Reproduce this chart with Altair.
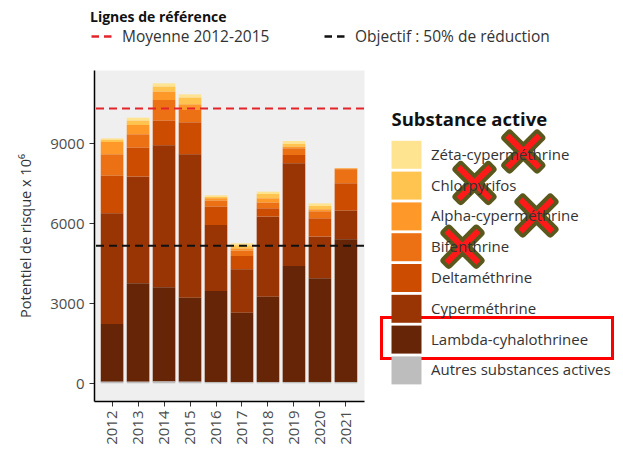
import altair as alt
import pandas as pd

# ---- data ----
annees = ["2012", "2013", "2014", "2015", "2016", "2017", "2018", "2019", "2020", "2021"]
substances = [
    "Zéta-cyperméthrine", "Chlorpyrifos", "Alpha-cyperméthrine", "Bifenthrine",
    "Deltaméthrine", "Cyperméthrine", "Lambda-cyhalothrinee", "Autres substances actives",
]
couleurs = ["#FEE391", "#FEC44F", "#FE9929", "#EC7014", "#CC4C02", "#993404", "#662506", "#BDBDBD"]

zeta = [57, 112, 125, 125, 60, 75, 87, 112, 100, 13]
chlorpyrifos = [80, 163, 188, 250, 50, 115, 163, 100, 125, 0]
alpha = [463, 350, 312, 212, 90, 85, 162, 63, 75, 32]
bifenthrine = [800, 500, 775, 463, 225, 200, 213, 250, 263, 530]
deltamethrine = [1412, 1087, 925, 1200, 688, 500, 312, 312, 687, 1025]
cypermethrine = [4150, 4000, 5325, 5375, 2475, 1625, 3000, 3850, 1563, 1075]
lambda_cyhalo = [2165, 3690, 3530, 3152, 3412, 2610, 3200, 4350, 3887, 5350]
autres = [60, 60, 70, 60, 50, 40, 50, 50, 50, 50]

series = [zeta, chlorpyrifos, alpha, bifenthrine, deltamethrine, cypermethrine, lambda_cyhalo, autres]
lignes = ["Moyenne 2012-2015", "Objectif : 50% de réduction"]
couleurs_lignes = ["#E3242B", "#111111"]

rows = []
for i, (sub, vals) in enumerate(zip(substances, series)):
    for an, v in zip(annees, vals):
        rows.append({"annee": an, "substance": sub, "valeur": v, "rang": len(substances) - i})
df = pd.DataFrame(rows)

totaux = df.groupby("annee")["valeur"].sum()
moyenne = float(totaux.loc[["2012", "2013", "2014", "2015"]].mean())
ref = pd.DataFrame({"ligne": lignes, "valeur": [moyenne, moyenne / 2]})

FONT = "Open Sans"
rect_path = "M-1,-0.933H1V0.933H-1Z"
TITRE_Y = "Potentiel de risque  x 10⁶"

bars = alt.Chart(df).mark_bar().encode(
    x=alt.X("annee:N", sort=annees,
            scale=alt.Scale(paddingInner=0.13, paddingOuter=0.26),
            axis=alt.Axis(title=None, labelAngle=270, labelFontSize=15, labelPadding=4,
                          tickSize=5, labelColor="#4D4D4D")),
    y=alt.Y("valeur:Q", stack="zero",
            scale=alt.Scale(domain=[-664, 11750], nice=False, zero=False),
            axis=alt.Axis(title=TITRE_Y, values=[0, 3000, 6000, 9000], format="d",
                          labelFontSize=15, labelPadding=5, tickSize=5, titleFontSize=14.5,
                          titleFontWeight="normal", titleColor="#333333", titlePadding=16,
                          labelColor="#4D4D4D")),
    fill=alt.Fill("substance:N",
                  scale=alt.Scale(domain=substances, range=couleurs),
                  legend=alt.Legend(title="Substance active", orient="none",
                                    legendX=297.5, legendY=41.3, direction="vertical",
                                    titleFontSize=18.5, titleFontWeight="bold", titleColor="#111111",
                                    titlePadding=10, labelFontSize=15, labelColor="#333333",
                                    labelLimit=300, labelOffset=9.5, symbolType=rect_path,
                                    symbolSize=900, symbolStrokeWidth=0, rowPadding=1.8,
                                    symbolOpacity=1)),
    order=alt.Order("rang:Q", sort="ascending"),
)

rules = alt.Chart(ref).mark_rule(strokeDash=[8, 5], strokeWidth=2).encode(
    y=alt.Y("valeur:Q", title=TITRE_Y),
    stroke=alt.Stroke("ligne:N", scale=alt.Scale(domain=lignes, range=couleurs_lignes),
                      legend=alt.Legend(title="Lignes de référence", orient="none",
                                        legendX=-4, legendY=-59, direction="horizontal",
                                        titleFontSize=14, titleFontWeight="bold",
                                        titleColor="#111111", titlePadding=0,
                                        labelFontSize=15.5, labelColor="#333333", labelLimit=300,
                                        symbolType="stroke", symbolSize=400, symbolDash=[7.5, 5],
                                        symbolStrokeWidth=2.5, labelOffset=9, columnPadding=49)),
)

# ---- annotations drawn over the legend (crosses and highlight box) ----
t = 0.235
x_path = (f"M-1,{-1+t}L{-1+t},-1L0,{-t}L{1-t},-1L1,{-1+t}L{t},0L1,{1-t}L{1-t},1"
          f"L0,{t}L{-1+t},1L-1,{1-t}L{-t},0Z")
croix = [(429.3, 81.5), (380.5, 113.0), (442.5, 145.5), (368.5, 176.7)]
one = pd.DataFrame({"a": [0]})
annots = []
for cx, cy in croix:
    annots.append(alt.Chart(one).mark_point(shape=x_path, size=1296, filled=True, opacity=1,
                                            fill="#5A581C", stroke="#5A581C", strokeWidth=8,
                                            strokeJoin="round")
                  .encode(x=alt.value(cx), y=alt.value(cy)))
for cx, cy in croix:
    annots.append(alt.Chart(one).mark_point(shape=x_path, size=1296, filled=True, opacity=1,
                                            fill="#FF1A1A", strokeWidth=0)
                  .encode(x=alt.value(cx), y=alt.value(cy)))
boite = alt.Chart(one).mark_rect(fillOpacity=0, stroke="#FF0000", strokeWidth=3).encode(
    x=alt.value(287.5), x2=alt.value(518.5), y=alt.value(247.5), y2=alt.value(288.5))

chart = alt.layer(bars, rules, *annots, boite).properties(
    width=270, height=331,
    padding={"left": 86, "top": 62, "right": 251, "bottom": 49},
    autosize=alt.AutoSizeParams(type="none"),
).configure(font=FONT).configure_view(
    fill="#EFEFEF", stroke="transparent"
).configure_axis(
    grid=False, domainColor="#000000", domainWidth=1.5, tickColor="#333333", tickWidth=1,
    labelFont=FONT, titleFont=FONT,
).configure_legend(
    labelFont=FONT, titleFont=FONT, padding=0,
)

chart.save("out.html", embed_options={"renderer": "svg", "actions": False})
